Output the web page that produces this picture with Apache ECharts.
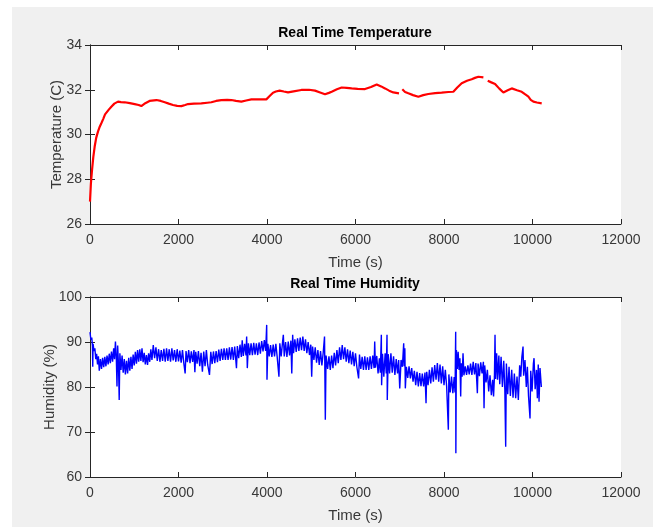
<!DOCTYPE html>
<html>
<head>
<meta charset="utf-8">
<script src="https://cdn.jsdelivr.net/npm/echarts@6/dist/echarts.min.js"></script>
<style>
  body { margin: 0; background: #ffffff; }
  #bg { position: absolute; left: 12px; top: 7px; width: 641px; height: 520px; background: #f0f0f0; }
  #chart { position: absolute; left: 0; top: 0; width: 653px; height: 527px; }
</style>
</head>
<body>
<div id="bg"></div>
<div id="chart"></div>
<script>
// 时间轴刻度
var timeTicks = [0, 2000, 4000, 6000, 8000, 10000, 12000];

// 温度 [时间(s), 温度(C)]，'-' 为断点
var tempPoints = [
  [0,27.0],[20,27.8],[45,28.4],[75,29.0],[105,29.45],[140,29.85],[180,30.13],[220,30.35],[256,30.5],[300,30.7],
  [340,30.9],[369,30.95],[420,31.1],[482,31.24],[550,31.38],[633,31.47],[700,31.45],[784,31.44],[900,31.4],[1010,31.36],
  [1100,31.32],[1160,31.27],[1250,31.4],[1345,31.5],[1500,31.54],[1600,31.5],[1690,31.44],[1780,31.38],[1876,31.32],[1970,31.28],
  [2065,31.27],[2150,31.32],[2215,31.36],[2350,31.38],[2516,31.39],[2650,31.42],[2742,31.44],[2850,31.5],[2968,31.54],[3100,31.55],
  [3194,31.54],[3300,31.5],[3420,31.47],[3530,31.52],[3646,31.57],[3800,31.57],[3985,31.57],[4060,31.72],[4136,31.87],[4200,31.92],
  [4287,31.96],[4380,31.92],[4475,31.88],[4600,31.93],[4776,31.99],[4950,32.0],[5085,31.96],[5200,31.88],[5311,31.8],[5400,31.86],
  [5462,31.91],[5580,32.02],[5688,32.1],[5800,32.08],[5914,32.06],[6050,32.04],[6215,32.03],[6350,32.12],[6479,32.24],[6580,32.15],
  [6667,32.06],[6760,31.96],[6855,31.88],[6983,31.84],[7020,'-'],[7058,32.02],[7120,31.9],[7194,31.84],[7300,31.76],[7420,31.69],
  [7530,31.76],[7646,31.81],[7800,31.85],[7947,31.87],[8100,31.9],[8211,31.91],[8300,32.1],[8400,32.29],[8520,32.4],[8626,32.47],
  [8700,32.53],[8777,32.58],[8890,32.55],[8940,'-'],[8988,32.4],[9070,32.33],[9154,32.26],[9250,32.05],[9342,31.88],[9440,31.98],
  [9530,32.06],[9650,31.98],[9756,31.91],[9830,31.8],[9907,31.69],[9960,31.55],[10020,31.47],[10100,31.43],[10208,31.39]
];

// 湿度 [时间(s), 湿度(%)]
var humPoints = [
  [0,92.2],[20,90.5],[40,91.0],[55,89.2],[62,84.5],[70,89.6],[90,88.0],[110,88.6],[130,86.2],[150,87.4],
  [170,85.0],[190,86.8],[210,83.6],[235,86.2],[260,84.0],[285,86.5],[310,84.4],[335,86.7],[360,84.6],[385,87.0],
  [410,85.0],[435,87.4],[460,85.3],[485,87.9],[510,85.6],[535,88.6],[555,86.2],[575,90.1],[595,86.4],[610,80.1],
  [625,89.2],[645,84.6],[660,77.1],[675,87.5],[700,83.8],[725,87.0],[750,83.2],[775,86.2],[800,82.8],[825,85.8],
  [850,83.0],[875,86.5],[900,83.6],[925,86.7],[950,84.0],[975,87.2],[1000,84.8],[1025,87.8],[1050,85.2],[1075,88.2],
  [1100,85.6],[1125,88.4],[1150,85.8],[1175,88.6],[1200,85.5],[1225,87.6],[1250,85.0],[1275,87.1],[1300,84.9],[1325,87.5],
  [1350,85.6],[1375,88.4],[1400,86.0],[1430,89.3],[1460,86.4],[1490,88.8],[1520,85.8],[1550,88.4],[1580,85.6],[1610,88.2],
  [1640,85.8],[1670,88.5],[1700,85.6],[1730,88.6],[1760,85.8],[1790,88.4],[1820,85.6],[1850,88.6],[1880,85.9],[1910,88.2],
  [1940,85.6],[1970,88.4],[2000,85.7],[2030,88.1],[2060,85.4],[2090,88.2],[2120,85.3],[2150,83.0],[2170,88.0],[2200,85.5],
  [2230,88.2],[2260,85.3],[2290,87.9],[2320,85.6],[2350,88.2],[2370,83.3],[2390,87.8],[2420,85.2],[2450,88.0],[2480,84.6],
  [2510,87.6],[2540,83.4],[2570,87.9],[2600,84.6],[2630,88.2],[2660,84.9],[2700,82.7],[2730,87.8],[2760,85.1],[2790,87.9],
  [2820,85.3],[2850,88.0],[2880,85.5],[2910,88.3],[2940,85.8],[2970,88.5],[3000,86.0],[3030,88.6],[3060,86.0],[3090,88.6],
  [3120,86.0],[3150,88.8],[3180,86.1],[3210,88.9],[3240,86.0],[3270,89.0],[3310,84.2],[3330,89.1],[3360,86.4],[3390,89.4],
  [3420,86.7],[3440,90.4],[3465,86.9],[3495,89.6],[3525,87.0],[3540,91.2],[3555,84.2],[3580,89.7],[3610,87.1],[3640,89.7],
  [3670,87.1],[3700,89.8],[3730,87.2],[3760,89.7],[3790,87.1],[3820,89.9],[3850,87.4],[3880,90.2],[3910,87.9],[3940,90.4],
  [3970,88.0],[3993,93.8],[4000,81.6],[4020,89.6],[4050,86.8],[4080,89.3],[4110,86.7],[4140,89.4],[4170,86.8],[4200,89.6],
  [4230,86.7],[4270,82.3],[4290,89.7],[4320,86.8],[4350,89.8],[4369,91.6],[4390,86.8],[4420,90.0],[4450,86.7],[4480,90.1],
  [4510,87.0],[4540,90.3],[4560,83.0],[4580,91.6],[4600,87.5],[4630,90.6],[4660,87.8],[4690,90.8],[4720,88.0],[4750,91.0],
  [4780,88.2],[4810,91.2],[4840,88.0],[4870,90.6],[4900,87.5],[4930,90.0],[4960,87.1],[4990,89.4],[5010,82.3],[5030,89.0],
  [5060,86.0],[5090,88.8],[5120,85.4],[5150,88.2],[5180,84.9],[5210,88.0],[5240,84.8],[5270,87.6],[5300,91.2],[5318,72.7],
  [5335,87.0],[5370,84.0],[5400,86.8],[5430,83.8],[5460,87.0],[5490,84.2],[5520,87.6],[5550,84.8],[5580,88.2],[5610,85.3],
  [5640,88.8],[5670,86.0],[5700,89.3],[5730,86.2],[5760,88.8],[5790,85.6],[5820,88.4],[5850,85.3],[5880,88.1],[5910,85.0],
  [5940,87.8],[5970,84.6],[6000,87.5],[6030,84.5],[6070,81.9],[6090,87.2],[6120,84.0],[6150,86.7],[6180,83.8],[6210,86.8],
  [6240,83.8],[6270,86.6],[6300,83.8],[6330,86.8],[6360,84.0],[6390,87.0],[6420,84.2],[6434,90.1],[6450,84.3],[6480,86.9],
  [6510,83.0],[6540,86.4],[6560,83.2],[6584,91.6],[6590,80.4],[6610,87.4],[6640,82.3],[6670,87.5],[6695,83.0],[6712,91.6],
  [6718,77.1],[6740,87.3],[6770,83.0],[6800,87.5],[6830,83.2],[6860,86.8],[6890,82.7],[6920,86.2],[6950,83.0],[6975,86.0],
  [7000,79.7],[7030,86.0],[7060,84.5],[7089,89.7],[7100,84.6],[7115,88.6],[7126,79.7],[7150,84.5],[7180,82.0],[7210,84.6],
  [7240,81.9],[7270,84.2],[7300,81.2],[7330,83.6],[7360,80.4],[7390,83.4],[7420,80.1],[7450,83.1],[7480,80.2],[7510,83.0],
  [7540,80.1],[7570,83.2],[7594,76.4],[7610,83.4],[7640,80.4],[7670,83.8],[7700,80.8],[7730,84.4],[7760,81.2],[7790,84.9],
  [7820,81.6],[7850,85.3],[7880,81.2],[7910,85.0],[7940,80.8],[7970,84.6],[8000,80.4],[8030,83.8],[8060,80.1],[8098,70.5],
  [8110,82.8],[8140,78.8],[8170,82.3],[8200,78.6],[8230,82.2],[8250,78.8],[8264,92.3],[8268,65.3],[8280,88.2],[8300,84.0],
  [8320,87.8],[8340,83.8],[8360,86.4],[8377,77.9],[8390,85.3],[8410,82.3],[8430,87.5],[8450,82.6],[8480,84.6],[8510,82.7],
  [8540,84.8],[8570,82.8],[8600,85.2],[8630,82.7],[8660,85.6],[8690,82.8],[8720,85.3],[8754,78.6],[8770,85.2],[8800,82.4],
  [8830,85.5],[8860,83.0],[8890,85.6],[8905,75.3],[8920,84.8],[8950,81.0],[8980,83.8],[9010,79.0],[9040,82.6],[9070,78.2],
  [9100,81.6],[9120,77.9],[9140,82.3],[9153,91.6],[9165,81.8],[9190,87.5],[9210,81.6],[9240,87.0],[9260,80.6],[9290,86.7],
  [9320,80.0],[9350,85.8],[9375,79.4],[9394,66.7],[9410,85.2],[9440,78.4],[9470,84.5],[9500,78.0],[9530,83.8],[9560,77.6],
  [9590,83.0],[9620,77.5],[9650,82.3],[9680,77.1],[9710,84.8],[9735,82.3],[9760,86.7],[9786,89.0],[9800,82.5],[9830,86.0],
  [9860,80.0],[9884,84.5],[9910,78.0],[9944,73.0],[9960,83.6],[9990,79.0],[10020,85.2],[10035,86.4],[10060,79.5],[10090,83.8],
  [10110,77.5],[10130,85.0],[10148,76.7],[10170,84.2],[10200,80.0]
];

var tempRange = [26, 34];
var humRange = [60, 100];

var axisColor = '#262626';
var labelColor = '#383838';
var fontName = 'Liberation Sans';

function xAxisOf(gridIndex, isTop) {
	return {
		type: 'value',
		gridIndex: gridIndex,
		position: isTop ? 'top' : 'bottom',
		min: timeTicks[0],
		max: timeTicks[timeTicks.length - 1],
		interval: timeTicks[1] - timeTicks[0],
		name: isTop ? '' : 'Time (s)',
		nameLocation: 'middle',
		nameGap: 31,
		nameMoveOverlap: false,
		nameTextStyle: {color: labelColor, fontSize: 15, fontFamily: fontName},
		axisLine: {show: true, lineStyle: {color: axisColor, width: 1}},
		axisTick: {show: true, inside: true, length: 5, lineStyle: {color: axisColor}},
		axisLabel: {show: !isTop, color: labelColor, fontSize: 14, fontFamily: fontName, margin: 9,
			formatter: function(v) { return String(v); }},
		splitLine: {show: false}
	};
}

function yAxisOf(gridIndex, isRight, range, step, title, gap) {
	return {
		type: 'value',
		gridIndex: gridIndex,
		position: isRight ? 'right' : 'left',
		min: range[0],
		max: range[1],
		interval: step,
		name: isRight ? '' : title,
		nameLocation: 'middle',
		nameGap: gap,
		nameMoveOverlap: false,
		nameTextStyle: {color: labelColor, fontSize: 15, fontFamily: fontName},
		axisLine: {show: true, lineStyle: {color: axisColor, width: 1}},
		axisTick: {show: true, inside: true, length: 5, lineStyle: {color: axisColor}},
		axisLabel: {show: !isRight, color: labelColor, fontSize: 14, fontFamily: fontName, margin: 8},
		splitLine: {show: false}
	};
}

var myChart = echarts.init(document.getElementById('chart'));
var option = {
	animation: false,
	backgroundColor: 'transparent',
	title: [
		{text: 'Real Time Temperature', left: 355, top: 26, textAlign: 'center', padding: 0,
		 textStyle: {fontSize: 14, fontWeight: 'bold', color: '#000', fontFamily: fontName}},
		{text: 'Real Time Humidity', left: 355, top: 277, textAlign: 'center', padding: 0,
		 textStyle: {fontSize: 14, fontWeight: 'bold', color: '#000', fontFamily: fontName}}
	],
	grid: [
		{left: 90, top: 45, width: 531, height: 179, show: true, backgroundColor: '#ffffff', borderWidth: 0},
		{left: 90, top: 297, width: 531, height: 180, show: true, backgroundColor: '#ffffff', borderWidth: 0}
	],
	xAxis: [
		xAxisOf(0, false), xAxisOf(0, true),
		xAxisOf(1, false), xAxisOf(1, true)
	],
	yAxis: [
		yAxisOf(0, false, tempRange, 2, 'Temperature (C)', 26),
		yAxisOf(0, true, tempRange, 2, '', 0),
		yAxisOf(1, false, humRange, 10, 'Humidity (%)', 33),
		yAxisOf(1, true, humRange, 10, '', 0)
	],
	series: [
		{
			name: 'Temperature',
			type: 'line',
			xAxisIndex: 0,
			yAxisIndex: 0,
			data: tempPoints,
			showSymbol: false,
			connectNulls: false,
			lineStyle: {color: '#ff0000', width: 2.2},
			itemStyle: {color: '#ff0000'}
		},
		{
			name: 'Humidity',
			type: 'line',
			xAxisIndex: 2,
			yAxisIndex: 2,
			data: humPoints,
			showSymbol: false,
			lineStyle: {color: '#0000ff', width: 1.4},
			itemStyle: {color: '#0000ff'}
		}
	]
};
myChart.setOption(option);
</script>
</body>
</html>
